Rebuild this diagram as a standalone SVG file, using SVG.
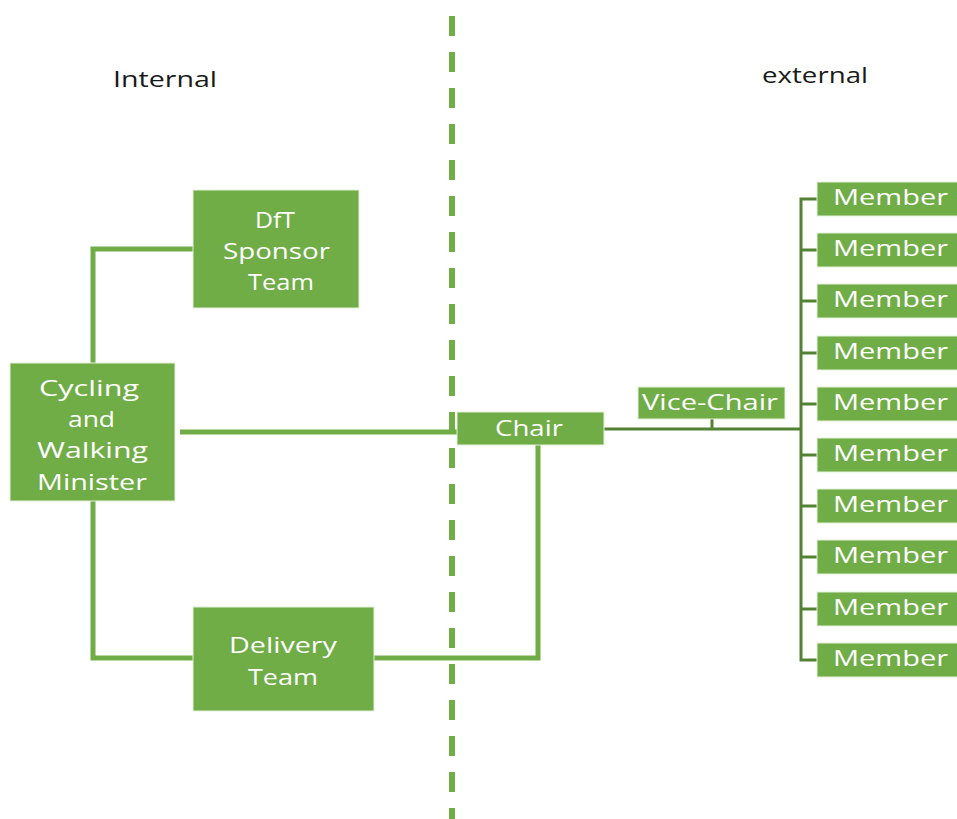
<svg xmlns="http://www.w3.org/2000/svg" width="957" height="819" viewBox="0 0 957 819">
<style>
.box{fill:#70AD47;stroke:#E2EFDA;stroke-width:1}
.t{font-family:"Open Sans","Liberation Sans",sans-serif;font-size:21px;fill:#FFFFFF}
.h{font-family:"Open Sans","Liberation Sans",sans-serif;font-size:21px;fill:#1A1A1A}
.c1{fill:none;stroke:#70AD47;stroke-width:5}
.c2{fill:none;stroke:#548235;stroke-width:3}
.div{fill:none;stroke:#70AD47;stroke-width:6;stroke-dasharray:20 16}
</style>
<rect width="957" height="819" fill="#FFFFFF"/>
<line class="div" x1="452" y1="16" x2="452" y2="819"/>
<text class="h" x="113" y="87" textLength="104" lengthAdjust="spacingAndGlyphs">Internal</text>
<text class="h" x="762" y="83" textLength="106" lengthAdjust="spacingAndGlyphs">external</text>
<g id="connectors">
<polyline class="c1" points="193,249 93,249 93,363"/>
<polyline class="c1" points="93,501 93,658 193,658"/>
<line class="c1" x1="180" y1="432" x2="457" y2="432"/>
<polyline class="c1" points="373,658 538,658 538,445"/>
<line class="c2" x1="604" y1="429" x2="801" y2="429"/>
<line class="c2" x1="712" y1="419" x2="712" y2="429"/>
<polyline class="c2" points="817,199 801,199 801,660 817,660"/>
<line class="c2" x1="801" y1="250" x2="817" y2="250"/>
<line class="c2" x1="801" y1="301" x2="817" y2="301"/>
<line class="c2" x1="801" y1="353" x2="817" y2="353"/>
<line class="c2" x1="801" y1="404" x2="817" y2="404"/>
<line class="c2" x1="801" y1="455" x2="817" y2="455"/>
<line class="c2" x1="801" y1="506" x2="817" y2="506"/>
<line class="c2" x1="801" y1="557" x2="817" y2="557"/>
<line class="c2" x1="801" y1="609" x2="817" y2="609"/>
</g>
<g id="dft">
<rect class="box" x="193" y="190" width="166" height="118"/>
<text class="t" x="255" y="228" textLength="40" lengthAdjust="spacingAndGlyphs">DfT</text>
<text class="t" x="223" y="259" textLength="107" lengthAdjust="spacingAndGlyphs">Sponsor</text>
<text class="t" x="248" y="290" textLength="66" lengthAdjust="spacingAndGlyphs">Team</text>
</g>
<g id="minister">
<rect class="box" x="10" y="363" width="165" height="138"/>
<text class="t" x="39" y="396" textLength="100" lengthAdjust="spacingAndGlyphs">Cycling</text>
<text class="t" x="68" y="427" textLength="47" lengthAdjust="spacingAndGlyphs">and</text>
<text class="t" x="37" y="458" textLength="111" lengthAdjust="spacingAndGlyphs">Walking</text>
<text class="t" x="37" y="490" textLength="110" lengthAdjust="spacingAndGlyphs">Minister</text>
</g>
<g id="delivery">
<rect class="box" x="193" y="607" width="181" height="104"/>
<text class="t" x="229" y="653" textLength="108" lengthAdjust="spacingAndGlyphs">Delivery</text>
<text class="t" x="248" y="685" textLength="70" lengthAdjust="spacingAndGlyphs">Team</text>
</g>
<g id="chair">
<rect class="box" x="457" y="412" width="147" height="33"/>
<text class="t" x="495" y="436" textLength="68" lengthAdjust="spacingAndGlyphs">Chair</text>
</g>
<g id="vicechair">
<rect class="box" x="638" y="387" width="147" height="32"/>
<text class="t" x="642" y="410" textLength="136" lengthAdjust="spacingAndGlyphs">Vice-Chair</text>
</g>
<g id="member1"><rect class="box" x="817" y="182" width="145" height="34"/><text class="t" x="833" y="205" textLength="115" lengthAdjust="spacingAndGlyphs">Member</text></g>
<g id="member2"><rect class="box" x="817" y="233" width="145" height="34"/><text class="t" x="833" y="256" textLength="115" lengthAdjust="spacingAndGlyphs">Member</text></g>
<g id="member3"><rect class="box" x="817" y="284" width="145" height="34"/><text class="t" x="833" y="307" textLength="115" lengthAdjust="spacingAndGlyphs">Member</text></g>
<g id="member4"><rect class="box" x="817" y="336" width="145" height="34"/><text class="t" x="833" y="359" textLength="115" lengthAdjust="spacingAndGlyphs">Member</text></g>
<g id="member5"><rect class="box" x="817" y="387" width="145" height="34"/><text class="t" x="833" y="410" textLength="115" lengthAdjust="spacingAndGlyphs">Member</text></g>
<g id="member6"><rect class="box" x="817" y="438" width="145" height="34"/><text class="t" x="833" y="461" textLength="115" lengthAdjust="spacingAndGlyphs">Member</text></g>
<g id="member7"><rect class="box" x="817" y="489" width="145" height="34"/><text class="t" x="833" y="512" textLength="115" lengthAdjust="spacingAndGlyphs">Member</text></g>
<g id="member8"><rect class="box" x="817" y="540" width="145" height="34"/><text class="t" x="833" y="563" textLength="115" lengthAdjust="spacingAndGlyphs">Member</text></g>
<g id="member9"><rect class="box" x="817" y="592" width="145" height="34"/><text class="t" x="833" y="615" textLength="115" lengthAdjust="spacingAndGlyphs">Member</text></g>
<g id="member10"><rect class="box" x="817" y="643" width="145" height="34"/><text class="t" x="833" y="666" textLength="115" lengthAdjust="spacingAndGlyphs">Member</text></g>
</svg>
